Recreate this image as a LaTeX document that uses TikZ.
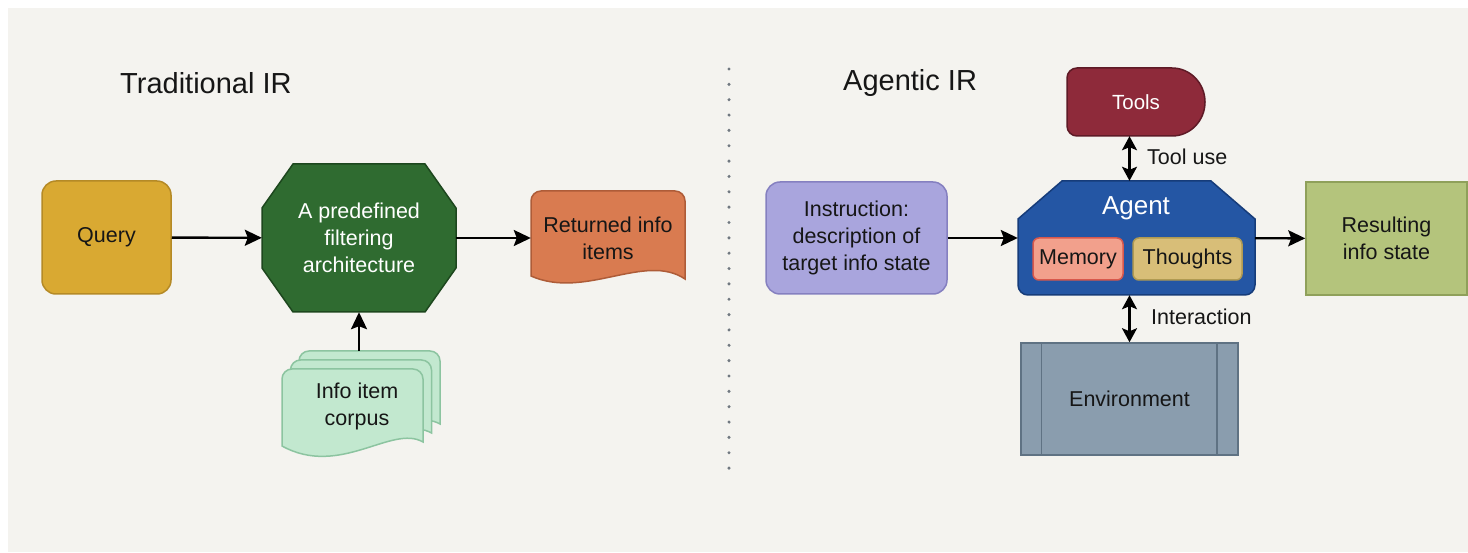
\documentclass[tikz,border=0pt]{standalone}
\usepackage{fontspec}
\setmainfont{Liberation Sans}
\usetikzlibrary{arrows.meta}
\definecolor{bgc}{HTML}{F4F3EF}
\definecolor{txt}{HTML}{161616}
\definecolor{queryc}{HTML}{D9A932}
\definecolor{queryd}{HTML}{B58A26}
\definecolor{octc}{HTML}{2F6B30}
\definecolor{octd}{HTML}{1D471E}
\definecolor{retc}{HTML}{D97B50}
\definecolor{retd}{HTML}{AE5C38}
\definecolor{corc}{HTML}{C2E8CF}
\definecolor{cord}{HTML}{8CC4A0}
\definecolor{toolc}{HTML}{8E2A3A}
\definecolor{toold}{HTML}{5E1A26}
\definecolor{agc}{HTML}{2456A4}
\definecolor{agd}{HTML}{163C7A}
\definecolor{memc}{HTML}{F2A08C}
\definecolor{memd}{HTML}{D8584C}
\definecolor{thc}{HTML}{D8BE78}
\definecolor{thd}{HTML}{B09A52}
\definecolor{insc}{HTML}{A9A5DD}
\definecolor{insd}{HTML}{8580C0}
\definecolor{envc}{HTML}{8A9DAE}
\definecolor{envd}{HTML}{5F7283}
\definecolor{resc}{HTML}{B4C47C}
\definecolor{resd}{HTML}{8FA05A}
\definecolor{dotc}{HTML}{707880}
\begin{document}
\begin{tikzpicture}[x=1pt,y=-1pt,
  lbl/.style={font=\fontsize{21.5}{27}\selectfont, text=txt, align=center, inner sep=0pt},
  ttl/.style={font=\fontsize{29}{34}\selectfont, text=txt, inner sep=0pt},
  shp/.style={line width=1.5pt},
  arr/.style={line width=2.4pt, -{Stealth[length=17pt,width=16pt,inset=3pt]}},
  dbl/.style={line width=2.4pt, {Stealth[length=14pt,width=15pt,inset=3pt]}-{Stealth[length=14pt,width=15pt,inset=3pt]}}]
\useasboundingbox (0,0) rectangle (1468,553);
\fill[white] (0,0) rectangle (1468,553);
\fill[bgc] (8,8) rectangle (1468,552);

% titles
\node[ttl, anchor=west] (t1) at (120,83) {Traditional IR};
\node[ttl, anchor=west] (t2) at (843,83) {Agentic IR};

% separator
\foreach \i in {0,...,26} \fill[dotc] (729,69+15.35*\i) circle (1.7);

% Query
\node[lbl, shp, fill=queryc, draw=queryd, rounded corners=14pt, minimum width=129pt, minimum height=113pt] (query) at (106.5,237.5) {Query};

% Octagon
\draw[shp, fill=octc, draw=octd] (293,164) -- (425,164) -- (456,208) -- (456,268) -- (425,312) -- (293,312) -- (262,268) -- (262,208) -- cycle;
\node[lbl, text=white, minimum width=194pt, minimum height=148pt] (oct) at (359,238) {A predefined\\filtering\\architecture};

% Returned info items
\draw[shp, fill=retc, draw=retd] (531,276) -- (531,201) arc[start angle=180,end angle=270,radius=10] -- (675,191) arc[start angle=270,end angle=360,radius=10] -- (685,279) .. controls (645,252) and (585,300) .. (531,276) -- cycle;
\node[lbl, minimum width=154pt, minimum height=96pt] (ret) at (608,238) {Returned info\\items};

% Corpus
\foreach \o in {2,1,0}{
\begin{scope}[shift={(8.5*\o,-9*\o)}]
\draw[shp, fill=corc, draw=cord] (282,446) -- (282,379) arc[start angle=180,end angle=270,radius=10] -- (413,369) arc[start angle=270,end angle=360,radius=10] -- (423,442) .. controls (392,424) and (340,478) .. (282,446) -- cycle;
\end{scope}}
\node[lbl, minimum width=140pt, minimum height=110pt] (corpus) at (357,406) {Info item\\corpus};

\draw[arr] (query) -- (oct);
\draw[arr] (oct) -- (ret);
\draw[arr] (oct.south |- corpus.north) -- (oct.south);

% Tools
\draw[shp, fill=toolc, draw=toold] (1067,126) -- (1067,78) arc[start angle=180,end angle=270,radius=10] -- (1172,68) arc[start angle=270,end angle=450,x radius=33,y radius=34] -- (1077,136) arc[start angle=90,end angle=180,radius=10] -- cycle;
\node[lbl, text=white, font=\fontsize{20.5}{24}\selectfont, minimum width=138pt, minimum height=68pt] (tools) at (1136,102) {Tools};

% Agent
\draw[shp, fill=agc, draw=agd] (1018,285) -- (1018,219) -- (1062,181) -- (1211,181) -- (1255,219) -- (1255,285) arc[start angle=0,end angle=90,radius=10] -- (1028,295) arc[start angle=90,end angle=180,radius=10] -- cycle;
\node[minimum width=237pt, minimum height=114pt, inner sep=0pt] (agent) at (1136.5,238) {};
\node[lbl, text=white, font=\fontsize{26}{30}\selectfont] (agentt) at (1136,208) {Agent};
\node[lbl, shp, fill=memc, draw=memd, rounded corners=6pt, minimum width=90pt, minimum height=42pt] (mem) at (1078,259) {Memory};
\node[lbl, shp, fill=thc, draw=thd, rounded corners=6pt, minimum width=109pt, minimum height=42pt] (th) at (1187.5,259) {Thoughts};

% Instruction
\node[lbl, shp, fill=insc, draw=insd, rounded corners=14pt, minimum width=181pt, minimum height=112pt] (ins) at (856.5,238) {Instruction:\\description of\\target info state};

% Resulting
\node[lbl, shp, fill=resc, draw=resd, minimum width=161pt, minimum height=113pt] (res) at (1386.5,238.5) {Resulting\\info state};

% Environment
\node[lbl, shp, fill=envc, draw=envd, minimum width=217pt, minimum height=112pt] (env) at (1129.5,399) {Environment};
\draw[shp, draw=envd] ([xshift=21pt]env.north west) -- ([xshift=21pt]env.south west);
\draw[shp, draw=envd] ([xshift=-22pt]env.north east) -- ([xshift=-22pt]env.south east);

\draw[arr] (ins) -- (agent);
\draw[arr] (agent) -- (res);
\draw[dbl] (env.north |- tools.south) -- (env.north |- agent.north);
\draw[dbl] (env.north |- agent.south) -- (env.north);
\node[lbl, anchor=west] (tooluse) at (1147,157) {Tool use};
\node[lbl, anchor=west] (inter) at (1151,317) {Interaction};
\end{tikzpicture}
\end{document}
